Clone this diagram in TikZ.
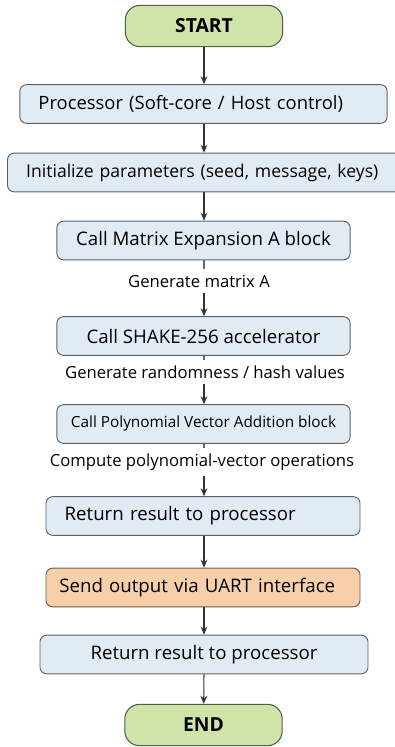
\documentclass[tikz,border=0pt]{standalone}
\usepackage{fontspec}
\setmainfont{Open Sans}
\usetikzlibrary{arrows.meta}

\definecolor{termfill}{RGB}{208,228,170}
\definecolor{termline}{RGB}{80,96,70}
\definecolor{procfill}{RGB}{225,235,244}
\definecolor{procline}{RGB}{88,98,108}
\definecolor{uartfill}{RGB}{247,208,170}
\definecolor{uartline}{RGB}{110,90,75}

\begin{document}
\begin{tikzpicture}[x=0.75pt,y=0.75pt,yscale=-1,xscale=1,
  term/.style={draw=termline,fill=termfill,line width=0.8pt,rounded corners=11pt,
    minimum width=118pt,minimum height=31pt,font=\fontsize{14.5}{16}\selectfont\bfseries},
  procbox/.style={draw=procline,fill=procfill,line width=0.7pt,rounded corners=5pt,
    minimum height=29pt,inner xsep=14pt,font=\fontsize{14}{16}\selectfont},
  midbox/.style={procbox,inner xsep=2pt,minimum width=220pt},
  note/.style={font=\fontsize{12.5}{14}\selectfont,inner sep=4pt},
  arr/.style={draw=black!80,line width=0.8pt,-{Stealth[length=6pt,width=5pt]}},
  lin/.style={draw=black!60,line width=0.8pt}]
\useasboundingbox (0,0) rectangle (395,747);

%Flowchart: Terminal
\node[term] (start) at (204,26) {START};
%Flowchart: Process
\node[procbox,text width=247.5pt,align=left,font=\fontsize{13.8}{16}\selectfont] (proc) at (203.5,104) {Processor (Soft-core / Host control)};
%Flowchart: Process
\node[procbox,text width=269pt,align=left,font=\fontsize{13.2}{16}\selectfont] (init) at (205.5,172.5) {Initialize parameters (seed, message, keys)};
%Flowchart: Process
\node[midbox] (matA) at (203.5,240.5) {Call Matrix Expansion A block};
%Flowchart: Process
\node[midbox] (shake) at (203.5,336) {Call SHAKE-256 accelerator};
%Flowchart: Process
\node[midbox,font=\fontsize{11.5}{13}\selectfont] (poly) at (203.5,424) {Call Polynomial Vector Addition block};
%Flowchart: Process
\node[procbox,text width=207.5pt,align=left] (ret) at (203,516) {Return result to processor};
%Flowchart: Process
\node[procbox,fill=uartfill,draw=uartline,text width=215.5pt,align=left,inner xsep=10pt] (uart) at (203,587.5) {Send output via UART interface};
%Flowchart: Process
\node[procbox,inner xsep=2pt,minimum width=246pt] (retb) at (204,654.5) {Return result to processor};
%Flowchart: Terminal
\node[term] (end) at (203.5,725) {END};

% Text Node
\node[note] (genA) at (199,281) {Generate matrix A};
% Text Node
\node[note] (genR) at (205,372) {Generate randomness / hash values};
% Text Node
\node[note] (comp) at (202,462) {Compute polynomial-vector operations};

%Connectors
\draw[arr] (start) -- (start |- proc.north);
\draw[arr] (proc.south -| start) -- (init.north -| start);
\draw[arr] (init.south -| start) -- (matA.north -| start);
\draw[lin] (matA.south -| start) -- (genA.north -| start);
\draw[arr] (genA.south -| start) -- (shake.north -| start);
\draw[lin] (shake.south -| start) -- (genR.north -| start);
\draw[arr] (genR.south -| start) -- (poly.north -| start);
\draw[lin] (poly.south -| start) -- (comp.north -| start);
\draw[arr] (comp.south -| start) -- (ret.north -| start);
\draw[arr] (ret.south -| start) -- (uart.north -| start);
\draw[arr] (uart.south -| start) -- (retb.north -| start);
\draw[arr] (retb.south -| start) -- (end);

\end{tikzpicture}
\end{document}
